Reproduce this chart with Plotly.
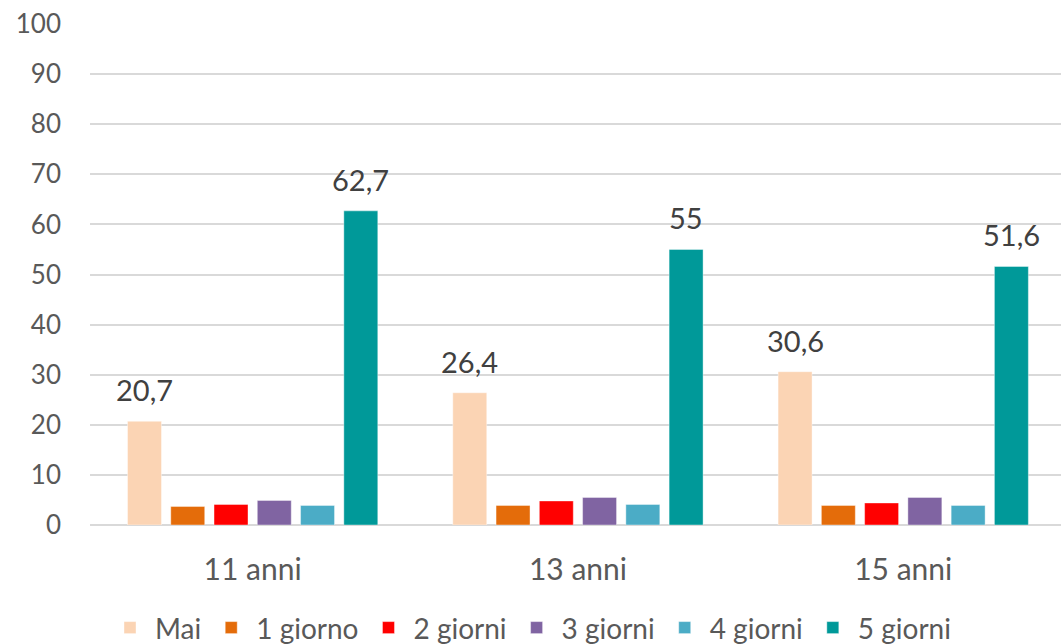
import plotly.graph_objects as go

categories = ["11 anni", "13 anni", "15 anni"]
series_names = ["Mai", "1 giorno", "2 giorni", "3 giorni", "4 giorni", "5 giorni"]
mai = [20.7, 26.4, 30.6]
g1 = [3.7, 3.9, 3.9]
g2 = [4.1, 4.8, 4.4]
g3 = [4.9, 5.5, 5.5]
g4 = [3.9, 4.1, 3.9]
g5 = [62.7, 55, 51.6]
series_values = [mai, g1, g2, g3, g4, g5]
labelled = ["Mai", "5 giorni"]
colors = ["#FBD4B4", "#E46C0A", "#FF0000", "#8064A2", "#4BACC6", "#009999"]
y_ticks = list(range(0, 101, 10))

FONT = "Lato"
W, H = 1061, 644
ml, mr, mt, mb = 90, 0, 24, 119
bargap = 0.202
x_max = 2.485
plot_w = W - ml - mr
px_per_unit = plot_w / (x_max + 0.5)
slot = px_per_unit * (1 - bargap) / len(series_names)

def fmt(v):
    return ("%g" % v).replace(".", ",")

fig = go.Figure()
for name, vals, col in zip(series_names, series_values, colors):
    fig.add_trace(go.Bar(
        x=categories, y=vals, name=name,
        marker=dict(color=col, line=dict(color="rgba(255,255,255,0.4)", width=1)),
        hoverinfo="x+y+name",
    ))

annotations = []
n = len(series_names)
for i, (name, vals) in enumerate(zip(series_names, series_values)):
    if name not in labelled:
        continue
    for c, v in zip(categories, vals):
        annotations.append(dict(
            x=c, y=v, xref="x", yref="y", text=fmt(v), showarrow=False,
            xshift=(i - (n - 1) / 2) * slot, yshift=12, yanchor="bottom",
            font=dict(family=FONT, size=29, color="#404040"),
        ))

fig.update_layout(
    width=W, height=H,
    margin=dict(l=ml, r=mr, t=mt, b=mb),
    paper_bgcolor="white", plot_bgcolor="white",
    barmode="group", bargap=bargap, bargroupgap=0.215,
    font=dict(family=FONT, size=27, color="#595959"),
    xaxis=dict(
        showgrid=False, showline=False, ticks="",
        tickfont=dict(family=FONT, size=30, color="#595959"),
        range=[-0.5, x_max], ticklabelstandoff=24, automargin=False,
    ),
    yaxis=dict(
        range=[0, 100], tickvals=y_ticks, showgrid=True, gridcolor="#D9D9D9",
        gridwidth=1.5, zeroline=True, zerolinecolor="#D9D9D9", zerolinewidth=1.5,
        tickfont=dict(family=FONT, size=26, color="#595959"), ticks="",
        ticklabelstandoff=28, automargin=False,
    ),
    legend=dict(
        orientation="h", x=0.5, xanchor="center", xref="container",
        y=0.025, yanchor="middle", yref="container",
        font=dict(family=FONT, size=28, color="#595959"),
        itemwidth=40, traceorder="normal",
    ),
    annotations=annotations,
)

fig.write_html("out.html")
